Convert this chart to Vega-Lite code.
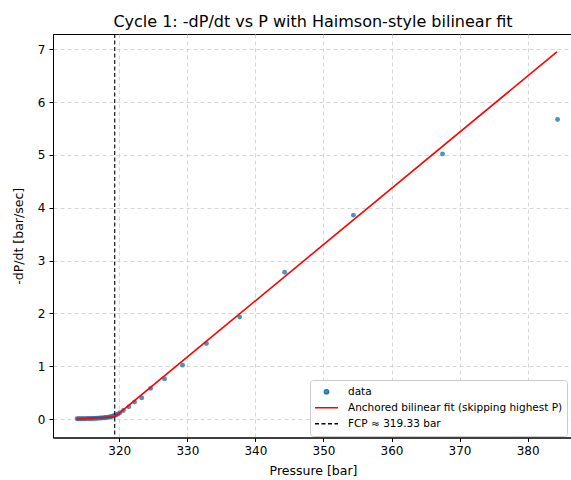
{
  "$schema": "https://vega.github.io/schema/vega-lite/v6.json",
  "width": 520,
  "height": 403.5,
  "autosize": "none",
  "padding": {"left": 53, "top": 34, "right": 0, "bottom": 43},
  "background": "white",
  "title": {
    "text": "Cycle 1: -dP/dt vs P with Haimson-style bilinear fit",
    "font": "DejaVu Sans",
    "fontSize": 16,
    "fontWeight": "normal",
    "color": "black",
    "anchor": "middle",
    "baseline": "alphabetic",
    "offset": 7,
    "dy": 17
  },
  "config": {
    "view": {"stroke": "black", "strokeWidth": 1},
    "axis": {
      "labelFont": "DejaVu Sans",
      "titleFont": "DejaVu Sans",
      "labelFontSize": 12,
      "titleFontSize": 12.5,
      "titleFontWeight": "normal",
      "labelColor": "black",
      "titleColor": "black",
      "domainColor": "black",
      "tickColor": "black",
      "tickSize": 4,
      "grid": true,
      "gridColor": "#cccccc",
      "gridDash": [4, 3],
      "gridOpacity": 0.8
    }
  },
  "layer": [
    {
      "data": {"values": [
        {"P": 313.8, "r": 0.005}, {"P": 314.0, "r": 0.004}, {"P": 314.2, "r": 0.006}, {"P": 314.4, "r": 0.005},
        {"P": 314.6, "r": 0.007}, {"P": 314.8, "r": 0.006}, {"P": 315.0, "r": 0.008}, {"P": 315.2, "r": 0.007},
        {"P": 315.4, "r": 0.009}, {"P": 315.6, "r": 0.008}, {"P": 315.8, "r": 0.010}, {"P": 316.0, "r": 0.010},
        {"P": 316.2, "r": 0.012}, {"P": 316.4, "r": 0.012}, {"P": 316.6, "r": 0.014}, {"P": 316.8, "r": 0.015},
        {"P": 317.0, "r": 0.017}, {"P": 317.2, "r": 0.018}, {"P": 317.4, "r": 0.020}, {"P": 317.6, "r": 0.022},
        {"P": 317.8, "r": 0.025}, {"P": 318.0, "r": 0.028}, {"P": 318.2, "r": 0.031}, {"P": 318.4, "r": 0.035},
        {"P": 318.6, "r": 0.040}, {"P": 318.8, "r": 0.046}, {"P": 319.0, "r": 0.053}, {"P": 319.2, "r": 0.062},
        {"P": 319.5, "r": 0.075}, {"P": 319.8, "r": 0.095}, {"P": 320.1, "r": 0.12}, {"P": 320.6, "r": 0.16},
        {"P": 321.4, "r": 0.23}, {"P": 322.25, "r": 0.32}, {"P": 323.3, "r": 0.40}, {"P": 324.6, "r": 0.58},
        {"P": 326.65, "r": 0.76}, {"P": 329.3, "r": 1.02}, {"P": 332.8, "r": 1.43}, {"P": 337.7, "r": 1.93},
        {"P": 344.3, "r": 2.78}, {"P": 354.4, "r": 3.86}, {"P": 367.5, "r": 5.02}, {"P": 384.4, "r": 5.67}
      ]},
      "transform": [{"calculate": "'data'", "as": "series"}],
      "mark": {"type": "circle", "size": 24, "opacity": 0.8},
      "encoding": {
        "x": {"field": "P", "type": "quantitative"},
        "y": {"field": "r", "type": "quantitative"},
        "color": {"field": "series", "type": "nominal"}
      }
    },
    {
      "data": {"values": [
        {"P": 313.7, "r": 0.0, "series": "Anchored bilinear fit (skipping highest P)"},
        {"P": 319.33, "r": 0.04, "series": "Anchored bilinear fit (skipping highest P)"},
        {"P": 384.3, "r": 6.95, "series": "Anchored bilinear fit (skipping highest P)"}
      ]},
      "mark": {"type": "line", "strokeWidth": 1.6},
      "encoding": {
        "x": {"field": "P", "type": "quantitative"},
        "y": {"field": "r", "type": "quantitative"},
        "color": {"field": "series", "type": "nominal"}
      }
    },
    {
      "data": {"values": [{"P": 319.33, "series": "FCP ≈ 319.33 bar"}]},
      "mark": {"type": "rule", "strokeWidth": 1.1, "strokeDash": [4, 2.5]},
      "encoding": {
        "x": {"field": "P", "type": "quantitative"},
        "color": {"field": "series", "type": "nominal"}
      }
    }
  ],
  "encoding": {
    "x": {
      "type": "quantitative",
      "scale": {"domain": [310.26, 386.67], "nice": false, "zero": false},
      "axis": {"title": "Pressure [bar]", "values": [320, 330, 340, 350, 360, 370, 380], "labelPadding": 4, "titlePadding": 8}
    },
    "y": {
      "type": "quantitative",
      "scale": {"domain": [-0.35, 7.29], "nice": false, "zero": false},
      "axis": {"title": "-dP/dt [bar/sec]", "values": [0, 1, 2, 3, 4, 5, 6, 7], "labelPadding": 4, "titlePadding": 12}
    },
    "color": {
      "type": "nominal",
      "scale": {
        "domain": ["data", "Anchored bilinear fit (skipping highest P)", "FCP ≈ 319.33 bar"],
        "range": ["#1f77b4", "red", "black"]
      },
      "legend": {
        "title": null,
        "orient": "none",
        "legendX": 257,
        "legendY": 346,
        "padding": 4,
        "fillColor": "white",
        "strokeColor": "#cccccc",
        "cornerRadius": 3,
        "labelFont": "DejaVu Sans",
        "labelFontSize": 10.5,
        "labelColor": "black",
        "labelOffset": 9,
        "labelLimit": 400,
        "rowPadding": 0,
        "symbolSize": 529,
        "clipHeight": 15.5,
        "symbolStrokeWidth": 1.5,
        "encode": {
          "symbols": {
            "update": {
              "shape": {"signal": "datum.value === 'data' ? 'circle' : 'stroke'"},
              "size": {"signal": "datum.value === 'data' ? 18 : 529"},
              "fill": {"signal": "datum.value === 'data' ? '#1f77b4' : 'transparent'"},
              "fillOpacity": {"value": 0.8},
              "stroke": {"signal": "datum.value === 'data' ? 'transparent' : (datum.value === 'FCP ≈ 319.33 bar' ? 'black' : 'red')"},
              "strokeDash": {"signal": "datum.value === 'FCP ≈ 319.33 bar' ? [4, 2.5] : []"},
              "strokeWidth": {"value": 1.5},
              "opacity": {"value": 1}
            }
          }
        }
      }
    }
  }
}
